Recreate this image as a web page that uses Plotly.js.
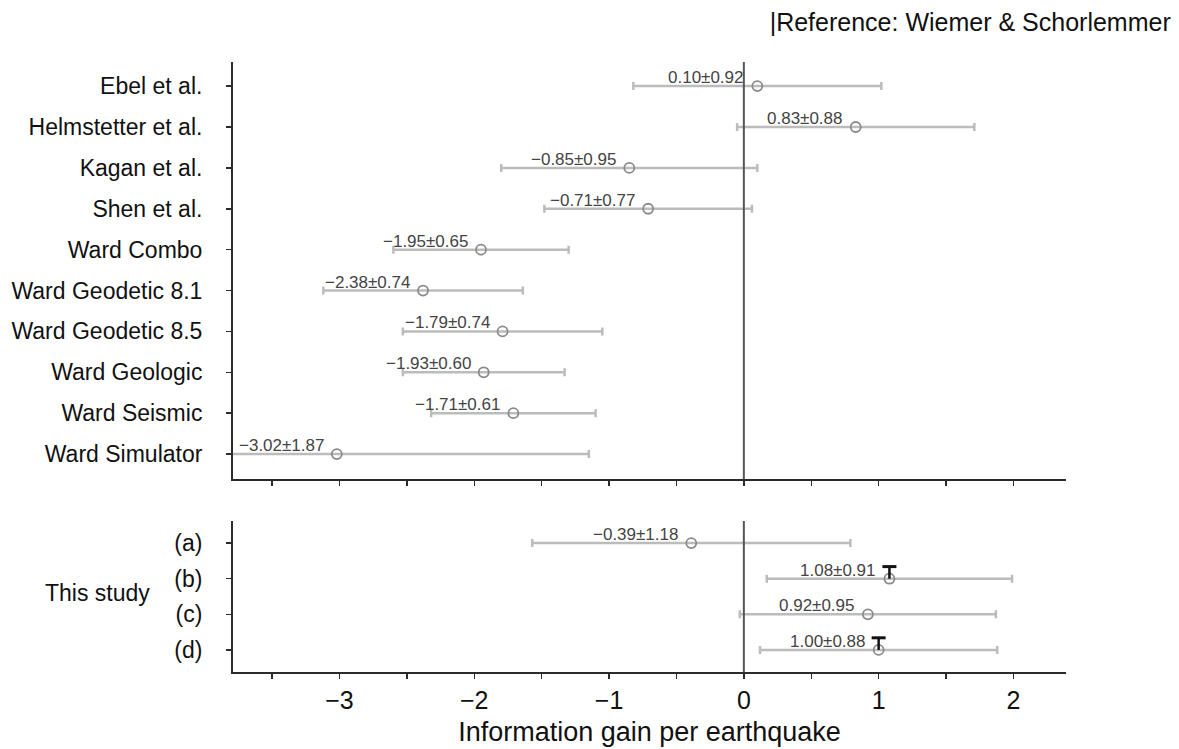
<!DOCTYPE html>
<html>
<head>
<meta charset="utf-8">
<script src="https://cdn.plot.ly/plotly-3.0.1.min.js"></script>
<style>
  html, body { margin: 0; padding: 0; background: #ffffff; }
  #chart { width: 1179px; height: 749px; }
</style>
</head>
<body>
<div id="chart"></div>
<script>
// Published forecast models (top panel)
const models = [
  "Ebel et al.", "Helmstetter et al.", "Kagan et al.", "Shen et al.",
  "Ward Combo", "Ward Geodetic 8.1", "Ward Geodetic 8.5",
  "Ward Geologic", "Ward Seismic", "Ward Simulator"
];
const modelGain = [0.10, 0.83, -0.85, -0.71, -1.95, -2.38, -1.79, -1.93, -1.71, -3.02];
const modelErr  = [0.92, 0.88, 0.95, 0.77, 0.65, 0.74, 0.74, 0.60, 0.61, 1.87];

// Models of this study (bottom panel)
const studyModels = ["(a)", "(b)", "(c)", "(d)"];
const studyGain = [-0.39, 1.08, 0.92, 1.00];
const studyErr  = [1.18, 0.91, 0.95, 0.88];
const studyFlagged = [false, true, false, true];

// x-axis ticks
const xTickVals = [-3, -2, -1, 0, 1, 2];
const xTickText = ["\u22123", "\u22122", "\u22121", "0", "1", "2"];

const FONT = "Liberation Sans, Arial, Helvetica, sans-serif";
const AXIS_COLOR = "#2b2b2b";
const BAR_COLOR = "#bcbcbc";
const DOT_COLOR = "#8a8a8a";
const LABEL_COLOR = "#444444";
const FLAG_HEIGHT = 0.34;   // height of the black flag stem, in row units

function fmt(v) {
  return (v < 0 ? "\u2212" : "") + Math.abs(v).toFixed(2);
}

// rows are placed top to bottom at 0, 1, 2, ... on a reversed numeric axis
const modelRows = models.map((_, i) => i);
const studyRows = studyModels.map((_, i) => i);

function pointTrace(rows, names, x, err, xa, ya) {
  return {
    type: "scatter", mode: "markers",
    x: x, y: rows, xaxis: xa, yaxis: ya,
    text: names,
    error_x: { type: "data", array: err, visible: true,
               color: BAR_COLOR, thickness: 2.5, width: 4 },
    marker: { symbol: "circle-open", size: 10, color: DOT_COLOR,
              line: { width: 1.8, color: DOT_COLOR } },
    hoverinfo: "x+text", showlegend: false
  };
}

// black "T" flags above selected study models: a stem plus a top bar
const flaggedY = studyRows.filter((_, i) => studyFlagged[i]);
const flaggedX = studyGain.filter((_, i) => studyFlagged[i]);
const stemTrace = {
  type: "scatter", mode: "markers",
  x: flaggedX, y: flaggedY, xaxis: "x2", yaxis: "y2",
  marker: { size: 1, color: "rgba(0,0,0,0)" },
  error_y: { type: "data", symmetric: false, visible: true,
             array: flaggedX.map(() => 0), arrayminus: flaggedX.map(() => FLAG_HEIGHT),
             color: "#111111", thickness: 2.5, width: 0 },
  hoverinfo: "skip", showlegend: false
};
const capTrace = {
  type: "scatter", mode: "markers",
  x: flaggedX, y: flaggedY.map(r => r - FLAG_HEIGHT), xaxis: "x2", yaxis: "y2",
  marker: { symbol: "line-ew", size: 10, color: "#111111",
            line: { width: 3, color: "#111111" } },
  hoverinfo: "skip", showlegend: false
};

const data = [
  pointTrace(modelRows, models, modelGain, modelErr, "x", "y"),
  pointTrace(studyRows, studyModels, studyGain, studyErr, "x2", "y2"),
  stemTrace,
  capTrace
];

function valueLabels(rows, gain, err, xa, ya) {
  return rows.map((r, i) => ({
    x: gain[i], y: r, xref: xa, yref: ya,
    text: fmt(gain[i]) + "\u00b1" + fmt(err[i]),
    showarrow: false, xanchor: "right", yanchor: "bottom",
    xshift: -11, yshift: -3,
    font: { family: FONT, size: 17, color: LABEL_COLOR }
  }));
}

const annotations = [
  ...valueLabels(modelRows, modelGain, modelErr, "x", "y"),
  ...valueLabels(studyRows, studyGain, studyErr, "x2", "y2"),
  {
    text: "This study", xref: "paper", yref: "paper",
    x: -0.163, y: 0.1295, xanchor: "center", yanchor: "middle",
    showarrow: false, font: { family: FONT, size: 23, color: "#111111" }
  }
];

const zeroLine = (xa, ya) => ({
  type: "line", xref: xa, yref: ya + " domain",
  x0: 0, x1: 0, y0: 0, y1: 1, layer: "above",
  line: { color: "#555555", width: 2 }
});

const xCommon = {
  range: [-3.79, 2.39], showgrid: false, zeroline: false,
  showline: true, linecolor: AXIS_COLOR, linewidth: 2,
  ticks: "outside", ticklen: 5, tickwidth: 1.5, tickcolor: AXIS_COLOR,
  tickvals: xTickVals, ticktext: xTickText,
  minor: { dtick: 0.5, ticks: "outside", ticklen: 5, tickwidth: 1.5, tickcolor: AXIS_COLOR },
  fixedrange: true
};

const yCommon = {
  type: "linear", showgrid: false, zeroline: false,
  showline: true, linecolor: AXIS_COLOR, linewidth: 2,
  ticks: "outside", ticklen: 5, tickwidth: 1.5, tickcolor: AXIS_COLOR,
  ticklabelstandoff: 19,
  tickfont: { family: FONT, size: 23, color: "#111111" },
  fixedrange: true
};

const layout = {
  width: 1179, height: 749,
  margin: { l: 233, r: 113, t: 62, b: 77 },
  paper_bgcolor: "#ffffff", plot_bgcolor: "#ffffff",
  font: { family: FONT, color: "#111111" },
  title: {
    text: "|Reference: Wiemer &amp; Schorlemmer",
    xref: "container", yref: "container",
    x: 0.993, xanchor: "right", y: 0.9706, yanchor: "middle",
    font: { family: FONT, size: 25, color: "#111111" }
  },
  xaxis: Object.assign({}, xCommon, { anchor: "y", showticklabels: false }),
  xaxis2: Object.assign({}, xCommon, {
    anchor: "y2", matches: "x",
    tickfont: { family: FONT, size: 25, color: "#111111" },
    title: { text: "Information gain per earthquake", standoff: 9,
             font: { family: FONT, size: 27, color: "#111111" } }
  }),
  yaxis: Object.assign({}, yCommon, {
    domain: [0.3164, 1], anchor: "x",
    tickvals: modelRows, ticktext: models,
    range: [models.length - 1 + 0.61, -0.59]
  }),
  yaxis2: Object.assign({}, yCommon, {
    domain: [0, 0.2475], anchor: "x2",
    tickvals: studyRows, ticktext: studyModels,
    range: [studyModels.length - 1 + 0.62, -0.62]
  }),
  shapes: [zeroLine("x", "y"), zeroLine("x2", "y2")],
  annotations: annotations
};

Plotly.newPlot("chart", data, layout, { displayModeBar: false, staticPlot: true });
</script>
</body>
</html>
